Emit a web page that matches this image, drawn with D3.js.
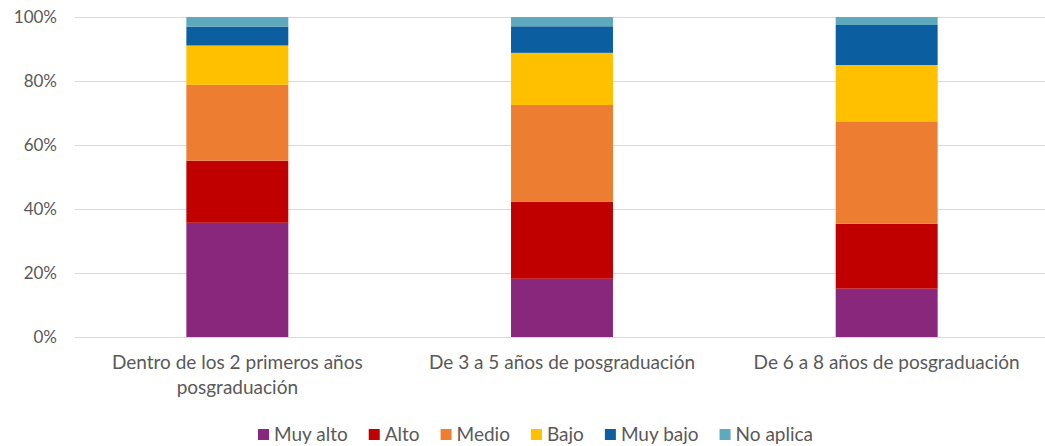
<!DOCTYPE html>
<html>
<head>
    <meta charset="utf-8">
    <title>Nivel por años de posgraduación</title>
    <script src="https://d3js.org/d3.v7.min.js"></script>
    <style>
        body { margin: 0; background: #fff; }
        text { font-family: Lato, "Noto Sans", sans-serif; fill: #595959; }
    </style>
</head>
<body>
    <script>
        // datos (%)
        var categories = [
            ["Dentro de los 2 primeros años", "posgraduación"],
            ["De 3 a 5 años de posgraduación"],
            ["De 6 a 8 años de posgraduación"]
        ];
        var seriesNames = ["Muy alto", "Alto", "Medio", "Bajo", "Muy bajo", "No aplica"];
        var muyAlto  = [35.7, 18.2, 15.1];
        var alto     = [19.4, 24.0, 20.3];
        var medio    = [23.7, 30.3, 32.0];
        var bajo     = [12.3, 16.3, 17.6];
        var muyBajo  = [5.9, 8.3, 12.5];
        var noAplica = [3.0, 2.9, 2.5];
        var yTicks = [0, 20, 40, 60, 80, 100];
        var colors = ["#89277C", "#C00000", "#ED7D31", "#FFC000", "#0B5FA0", "#5FA9BE"];

        var W = 1045, H = 446;
        var svg = d3.select("body").append("svg")
            .attr("width", W)
            .attr("height", H);

        var seriesValues = [muyAlto, alto, medio, bajo, muyBajo, noAplica];
        var rows = categories.map(function (c, i) {
            var r = { cat: i };
            seriesNames.forEach(function (s, j) { r[s] = seriesValues[j][i]; });
            return r;
        });
        var stacked = d3.stack().keys(seriesNames)(rows);

        var x = d3.scaleBand()
            .domain(d3.range(categories.length))
            .range([75, 1049])
            .padding(0);
        var barW = x.bandwidth() * 0.314;

        var y = d3.scaleLinear()
            .domain([0, 100])
            .range([337, 17]);

        // líneas de la cuadrícula
        svg.append("g")
            .selectAll("line")
            .data(yTicks)
            .enter()
            .append("line")
              .attr("x1", 75)
              .attr("x2", 1049)
              .attr("y1", function (d) { return y(d) + 0.5; })
              .attr("y2", function (d) { return y(d) + 0.5; })
              .attr("stroke", "#d9d9d9")
              .attr("stroke-width", 1);

        // etiquetas del eje Y
        var yAxis = d3.axisLeft(y)
            .tickValues(yTicks)
            .tickSize(0)
            .tickPadding(0)
            .tickFormat(function (d) { return d + "%"; });
        var gy = svg.append("g")
            .attr("transform", "translate(57,0)")
            .call(yAxis);
        gy.select(".domain").remove();
        gy.selectAll("text")
            .attr("font-size", "17px")
            .attr("font-family", null)
            .attr("fill", "#595959");

        // barras apiladas
        svg.append("g")
            .selectAll("g")
            .data(stacked)
            .enter()
            .append("g")
              .attr("fill", function (d, i) { return colors[i]; })
            .selectAll("rect")
            .data(function (d) { return d; })
            .enter()
            .append("rect")
              .attr("x", function (d) { return x(d.data.cat) + (x.bandwidth() - barW) / 2; })
              .attr("y", function (d) { return y(d[1]); })
              .attr("width", barW)
              .attr("height", function (d) { return y(d[0]) - y(d[1]); });

        // etiquetas del eje X
        var xl = svg.append("g")
            .selectAll("text")
            .data(categories)
            .enter()
            .append("text")
              .attr("x", function (d, i) { return x(i) + x.bandwidth() / 2; })
              .attr("y", 369)
              .attr("text-anchor", "middle")
              .attr("font-size", "19px");
        xl.selectAll("tspan")
            .data(function (d) { return d; })
            .enter()
            .append("tspan")
              .attr("x", function () { return this.parentNode.getAttribute("x"); })
              .attr("dy", function (d, i) { return i === 0 ? 0 : 25; })
              .text(function (d) { return d; });

        // leyenda
        var legend = svg.append("g").attr("transform", "translate(0,435)");
        var lx = 258;
        seriesNames.forEach(function (s, i) {
            var g = legend.append("g").attr("transform", "translate(" + lx + ",0)");
            g.append("rect")
                .attr("x", 0)
                .attr("y", -6)
                .attr("width", 11)
                .attr("height", 11)
                .attr("fill", colors[i]);
            var t = g.append("text")
                .attr("x", 16)
                .attr("y", 6)
                .attr("font-size", "19px")
                .text(s);
            lx += 16 + t.node().getComputedTextLength() + 21;
        });
    </script>
</body>
</html>
